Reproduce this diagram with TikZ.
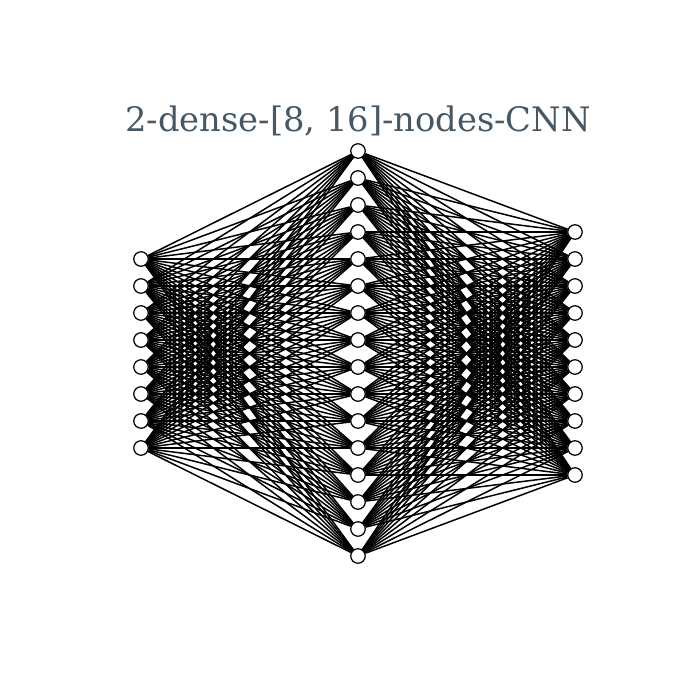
\documentclass[tikz,border=0pt]{standalone}
\usepackage{fontspec}
\usepackage{tikz}
\usetikzlibrary{positioning}
\newfontfamily\titlefont{DejaVu Serif}
\definecolor{titlegray}{HTML}{465865}

\begin{document}
\begin{tikzpicture}[
    unit/.style={circle, draw=black, fill=white, line width=0.7pt, minimum size=0.29cm, inner sep=0pt},
    link/.style={black, line width=0.85pt}
]
\useasboundingbox (0,0) rectangle (14,14);

% title
\node[titlegray, font=\titlefont\fontsize{19.2}{22}\selectfont] (title) at (7.16, 11.58) {2-dense-[8, 16]-nodes-CNN};

% input layer
\foreach \i in {0,...,7} {
    \node[unit] (in\i) at (2.82, {6.93 + (3.5-\i)*0.54}) {};
}

% hidden layer
\foreach \j in {0,...,15} {
    \node[unit] (hid\j) at (7.16, {6.93 + (7.5-\j)*0.54}) {};
}

% output layer
\foreach \k in {0,...,9} {
    \node[unit] (out\k) at (11.5, {6.93 + (4.5-\k)*0.54}) {};
}

% connections
\foreach \i in {0,...,7} {
    \foreach \j in {0,...,15} {
        \draw[link] (in\i) -- (hid\j);
    }
}
\foreach \j in {0,...,15} {
    \foreach \k in {0,...,9} {
        \draw[link] (hid\j) -- (out\k);
    }
}
\end{tikzpicture}
\end{document}
